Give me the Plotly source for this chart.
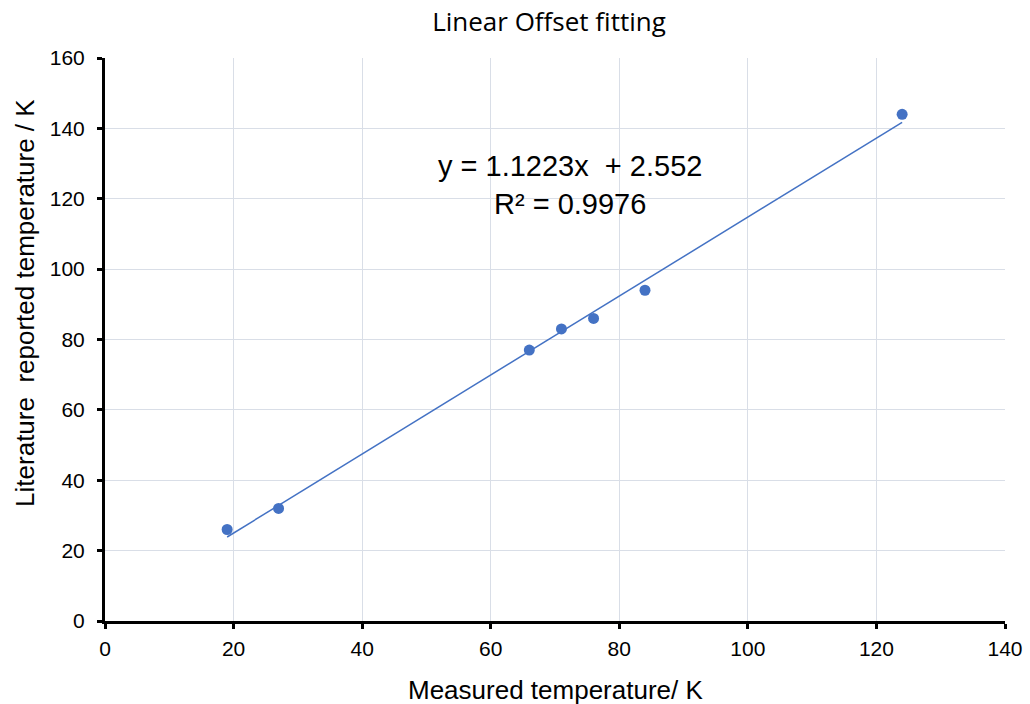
import plotly.graph_objects as go

measured = [19, 27, 66, 71, 76, 84, 124]
literature = [26, 32, 77, 83, 86, 94, 144]
slope = 1.1223
intercept = 2.552
r2 = 0.9976

x_fit = [min(measured), max(measured)]
y_fit = [slope * v + intercept for v in x_fit]

color = "#4472C4"
grid = "#D9DEE7"
font_main = "Liberation Sans, Arial"

fig = go.Figure()
fig.add_trace(go.Scatter(x=x_fit, y=y_fit, mode="lines",
                         line=dict(color=color, width=1.5), hoverinfo="skip"))
fig.add_trace(go.Scatter(x=measured, y=literature, mode="markers",
                         marker=dict(color=color, size=11)))

fig.add_annotation(x=72.3, y=124, xref="x", yref="y",
                   text=f"y = {slope}x&nbsp;&nbsp;+ {intercept}<br>R² = {r2}",
                   showarrow=False, align="center",
                   font=dict(family=font_main, size=29, color="black"))

# axis titles
fig.add_annotation(x=0.5, y=-0.1226, xref="paper", yref="paper",
                   text="Measured temperature/ K", showarrow=False,
                   xanchor="center", yanchor="middle",
                   font=dict(family=font_main, size=26, color="black"))
fig.add_annotation(x=-0.0889, y=0.565, xref="paper", yref="paper",
                   text="Literature&nbsp;&nbsp;reported temperature / K", showarrow=False,
                   textangle=-90, xanchor="center", yanchor="middle",
                   font=dict(family=font_main, size=26, color="black"))

fig.update_layout(
    width=1030, height=704,
    margin=dict(l=105, r=25, t=58, b=83, autoexpand=False),
    paper_bgcolor="white", plot_bgcolor="white",
    showlegend=False,
    title=dict(text="Linear Offset fitting", x=0.533, xanchor="center", y=0.969, yanchor="middle",
               font=dict(family="Open Sans", size=26, color="black")),
    font=dict(family=font_main, color="black"),
)
fig.update_xaxes(range=[0, 140], dtick=20, showgrid=True, gridcolor=grid, gridwidth=1,
                 showline=True, linecolor="black", linewidth=3, automargin=False,
                 ticks="outside", ticklen=5, tickwidth=3, tickcolor="black",
                 tickfont=dict(family=font_main, size=21), zeroline=False, ticklabelstandoff=2)
fig.update_yaxes(range=[0, 160], dtick=20, showgrid=True, gridcolor=grid, gridwidth=1,
                 showline=True, linecolor="black", linewidth=3, automargin=False,
                 ticks="outside", ticklen=5, tickwidth=3, tickcolor="black",
                 tickfont=dict(family=font_main, size=21), zeroline=False, ticklabelstandoff=8)

fig.write_html("out.html")
